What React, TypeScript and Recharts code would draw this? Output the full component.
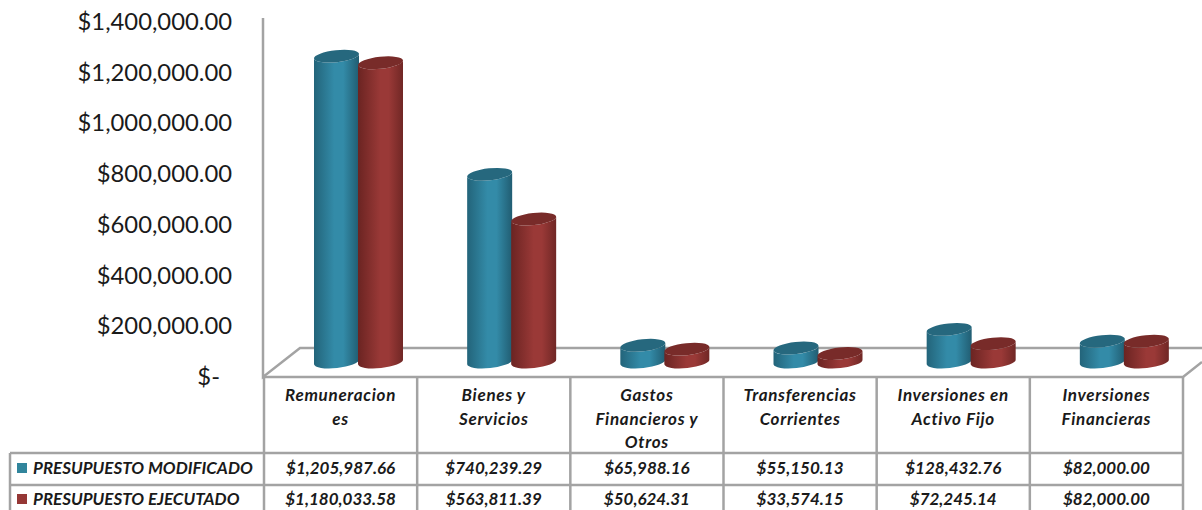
import { Bar, BarChart, XAxis, YAxis } from 'recharts'

const CATEGORIES = ['Remuneraciones', 'Bienes y Servicios', 'Gastos Financieros y Otros', 'Transferencias Corrientes', 'Inversiones en Activo Fijo', 'Inversiones Financieras']
const CATEGORY_LINES = [
  ['Remuneracion', 'es'],
  ['Bienes y', 'Servicios'],
  ['Gastos', 'Financieros y', 'Otros'],
  ['Transferencias', 'Corrientes'],
  ['Inversiones en', 'Activo Fijo'],
  ['Inversiones', 'Financieras'],
]
const MODIFICADO = [1205987.66, 740239.29, 65988.16, 55150.13, 128432.76, 82000.0]
const EJECUTADO = [1180033.58, 563811.39, 50624.31, 33574.15, 72245.14, 82000.0]
const Y_TICKS = [0, 200000, 400000, 600000, 800000, 1000000, 1200000, 1400000]
const MODIFICADO_NAME = 'PRESUPUESTO MODIFICADO'
const EJECUTADO_NAME = 'PRESUPUESTO EJECUTADO'

const TEAL = '#31859c'
const RED = '#953735'
const GRID = '#a3a3a3'
const TEXT = '#1a1a1a'
const FONT = 'Lato, "Open Sans", sans-serif'

const PLOT_LEFT = 264
const PLOT_RIGHT = 1183
const PLOT_TOP = 22
const PLOT_BOTTOM = 377
const DEPTH_X = 18
const DEPTH_Y = 15
const TILT = 6

const chartData = CATEGORIES.map((name, i) => ({ name, modificado: MODIFICADO[i], ejecutado: EJECUTADO[i] }))

const money = (v: number) =>
  '$' + v.toLocaleString('en-US', { minimumFractionDigits: 2, maximumFractionDigits: 2 })

function Cylinder(props: any) {
  const { x, y, width, height, gradient, cap } = props
  const cx = x + width / 2 + DEPTH_X
  const top = y - DEPTH_Y
  const bottom = y + height - DEPTH_Y
  const half = width / 2
  const rad = (TILT * Math.PI) / 180
  const rx = half / Math.cos(rad)
  const ry = 6
  const t = half * Math.tan(rad)
  const body = `M${cx - half},${top + t} L${cx - half},${bottom + t} A${rx},${ry} ${-TILT} 0 0 ${cx + half},${bottom - t} L${cx + half},${top - t} A${rx},${ry} ${-TILT} 0 1 ${cx - half},${top + t} Z`
  return (
    <g>
      <path d={body} fill={`url(#${gradient})`} />
      <ellipse cx={cx} cy={top} rx={rx} ry={ry} fill={cap} transform={`rotate(${-TILT} ${cx} ${top})`} />
    </g>
  )
}

function YTick({ x, y, payload }: any) {
  const zero = payload.value === 0
  return (
    <text x={zero ? x - 12 : x} y={y} dy={8} textAnchor="end" fontFamily={FONT} fontSize={23.8} fill={TEXT}>
      {zero ? '$-' : money(payload.value)}
    </text>
  )
}

function CategoryTick({ x, y, payload }: any) {
  const lines = CATEGORY_LINES[payload.index] ?? []
  return (
    <text textAnchor="middle" fontFamily={FONT} fontSize={17} letterSpacing={0.7} fontStyle="italic" fontWeight={700} fill={TEXT}>
      {lines.map((line, i) => (
        <tspan key={line} x={x} y={y + 16 + i * 23.5}>
          {line}
        </tspan>
      ))}
    </text>
  )
}

const COLUMN_EDGES = CATEGORIES.map((_, i) => PLOT_LEFT + ((PLOT_RIGHT - PLOT_LEFT) * i) / CATEGORIES.length)

function Frame() {
  return (
    <svg width={1202} height={510} style={{ position: 'absolute', left: 0, top: 0 }}>
      <g stroke={GRID} strokeWidth={2.5} fill="none">
        <path d="M263,18 L263,377 L300,348 L1202,348" />
        <path d="M263,377 L1183,377 L1202,362" />
        {[...COLUMN_EDGES, PLOT_RIGHT].map(e => (
          <line key={e} x1={e} y1={PLOT_BOTTOM} x2={e} y2={520} />
        ))}
        <line x1={10} y1={453} x2={PLOT_RIGHT} y2={453} />
        <line x1={10} y1={485} x2={PLOT_RIGHT} y2={485} />
        <line x1={10} y1={453} x2={10} y2={520} />
      </g>
      <rect x={17} y={463} width={10} height={10} fill={TEAL} />
      <rect x={17} y={494} width={10} height={10} fill={RED} />
      <g fontFamily={FONT} fontSize={17} fontStyle="italic" fontWeight={700} fill={TEXT}>
        <text x={33} y={474}>{MODIFICADO_NAME}</text>
        <text x={33} y={505}>{EJECUTADO_NAME}</text>
        {CATEGORIES.map((c, i) => {
          const mid = COLUMN_EDGES[i] + (PLOT_RIGHT - PLOT_LEFT) / CATEGORIES.length / 2
          return (
            <g key={c} textAnchor="middle">
              <text x={mid} y={474}>{money(MODIFICADO[i])}</text>
              <text x={mid} y={505}>{money(EJECUTADO[i])}</text>
            </g>
          )
        })}
      </g>
    </svg>
  )
}

export default function App() {
  return (
    <div style={{ position: 'absolute', left: 0, top: 0, width: 1202, height: 510, overflow: 'hidden', background: '#fff' }}>
      <Frame />
      <div style={{ position: 'absolute', left: 0, top: 0 }}>
        <BarChart
          width={1202}
          height={510}
          data={chartData}
          margin={{ top: PLOT_TOP, right: 1202 - PLOT_RIGHT, bottom: 0, left: 0 }}
          barSize={45}
          barGap={-1}
        >
          <defs>
            <linearGradient id="tealBody" x1="0" y1="0" x2="1" y2="0">
              <stop offset="0" stopColor="#23647a" />
              <stop offset="0.45" stopColor="#338ba8" />
              <stop offset="0.65" stopColor="#338ba8" />
              <stop offset="1" stopColor="#215d72" />
            </linearGradient>
            <linearGradient id="redBody" x1="0" y1="0" x2="1" y2="0">
              <stop offset="0" stopColor="#6b2422" />
              <stop offset="0.5" stopColor="#9a3937" />
              <stop offset="0.68" stopColor="#9a3937" />
              <stop offset="1" stopColor="#702725" />
            </linearGradient>
          </defs>
          <XAxis
            dataKey="name"
            height={510 - PLOT_BOTTOM}
            interval={0}
            tick={<CategoryTick />}
            tickLine={false}
            axisLine={false}
          />
          <YAxis
            domain={[0, 1400000]}
            ticks={Y_TICKS}
            width={PLOT_LEFT}
            interval={0}
            tick={<YTick />}
            tickLine={false}
            tickMargin={26}
            axisLine={false}
          />
          <Bar
            dataKey="modificado"
            isAnimationActive={false}
            fill={TEAL}
            shape={(p: any) => <Cylinder {...p} gradient="tealBody" cap="#26687e" />}
          />
          <Bar
            dataKey="ejecutado"
            isAnimationActive={false}
            fill={RED}
            shape={(p: any) => <Cylinder {...p} gradient="redBody" cap="#782b29" />}
          />
        </BarChart>
      </div>
    </div>
  )
}
